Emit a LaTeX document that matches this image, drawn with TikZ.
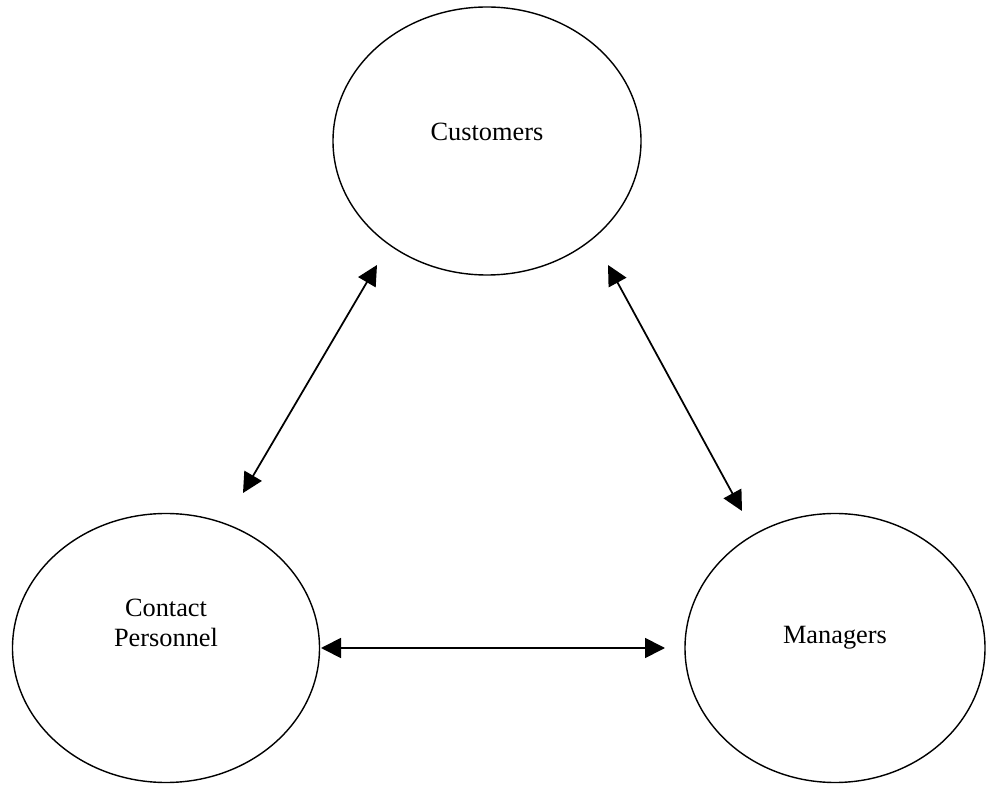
\documentclass[tikz,border=0pt]{standalone}
\usepackage{fontspec}
\setmainfont{Liberation Serif}
\usetikzlibrary{shapes.geometric,arrows.meta}
\begin{document}
\begin{tikzpicture}[x=0.02cm,y=-0.02cm,line join=round,font=\fontsize{15pt}{17pt}\selectfont,
	blob/.style={draw,ellipse,line width=0.8pt,inner sep=0pt},
	link/.style={{Triangle[length=0.4cm,width=0.4cm]}-{Triangle[length=0.4cm,width=0.4cm]},line width=1pt}]
	\useasboundingbox (0,0) rectangle (987,786);
	% the three groups
	\node[blob,minimum width=308*0.02cm,minimum height=268*0.02cm,label={[yshift=0.18cm]center:Customers}] (cust) at (487,141) {};
	\node[blob,minimum width=307*0.02cm,minimum height=269*0.02cm,label={[yshift=0.5cm,align=center]center:Contact\\Personnel}] (staff) at (166,648) {};
	\node[blob,minimum width=300*0.02cm,minimum height=269*0.02cm,label={[yshift=0.2cm]center:Managers}] (mgr) at (835,648) {};
	% arrow ends
	\coordinate (custL) at (377,265);
	\coordinate (custR) at (608,265);
	\coordinate (staffT) at (243,493);
	\coordinate (mgrT) at (742,511);
	\coordinate (staffR) at (321,648);
	\coordinate (mgrL) at (665,648);
	\draw[link] (custL) -- (staffT);
	\draw[link] (custR) -- (mgrT);
	\draw[link] (staffR) -- (mgrL);
\end{tikzpicture}
\end{document}
